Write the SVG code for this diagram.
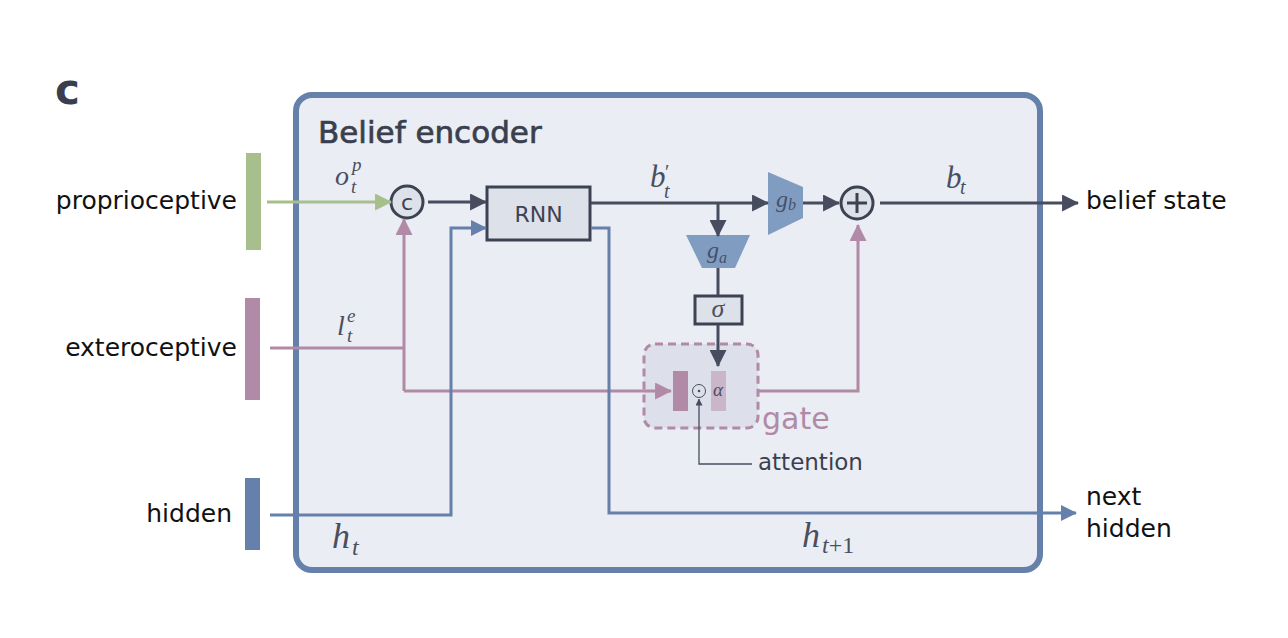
<svg xmlns="http://www.w3.org/2000/svg" width="1288" height="638" viewBox="0 0 1288 638">
<defs>
<style>
.lbl{font-family:"DejaVu Sans","Liberation Sans",sans-serif;font-size:25px;fill:#111}
.math{font-family:"Liberation Serif","DejaVu Serif",serif;font-style:italic;fill:#4a4f5f}
.up{font-style:normal}
.dk{fill:none;stroke:#474d5f;stroke-width:3}
.gr{fill:none;stroke:#a6bf8c;stroke-width:3}
.pu{fill:none;stroke:#b08aa6;stroke-width:3}
.bl{fill:none;stroke:#6580aa;stroke-width:3}
.node{fill:#dde1ea;stroke:#3d4252;stroke-width:3}
.trap{fill:#809dc1}
</style>
<marker id="aDk" viewBox="0 0 16 16" refX="15" refY="8" markerWidth="17" markerHeight="17" markerUnits="userSpaceOnUse" orient="auto"><path d="M0,0 L16,8 L0,16 z" fill="#474d5f"/></marker>
<marker id="aGr" viewBox="0 0 16 16" refX="15" refY="8" markerWidth="17" markerHeight="17" markerUnits="userSpaceOnUse" orient="auto"><path d="M0,0 L16,8 L0,16 z" fill="#a6bf8c"/></marker>
<marker id="aPu" viewBox="0 0 16 16" refX="15" refY="8" markerWidth="17" markerHeight="17" markerUnits="userSpaceOnUse" orient="auto"><path d="M0,0 L16,8 L0,16 z" fill="#b08aa6"/></marker>
<marker id="aBl" viewBox="0 0 16 16" refX="15" refY="8" markerWidth="16" markerHeight="16" markerUnits="userSpaceOnUse" orient="auto"><path d="M0,0 L16,8 L0,16 z" fill="#6580aa"/></marker>
<marker id="aTh" viewBox="0 0 8 8" refX="7.5" refY="4" markerWidth="7" markerHeight="7" markerUnits="userSpaceOnUse" orient="auto"><path d="M0,0 L8,4 L0,8 z" fill="#474d5f"/></marker>
</defs>
<rect width="1288" height="638" fill="#ffffff"/>

<text x="55" y="104" style="font-family:'DejaVu Sans','Liberation Sans',sans-serif;font-weight:bold;font-size:42px;fill:#3a3f4f">c</text>

<g id="encoder">
<rect x="296" y="95" width="744" height="475" rx="16" fill="#eaedf3" stroke="#6580aa" stroke-width="6"/>
<text x="318" y="143" style="font-family:'DejaVu Sans','Liberation Sans',sans-serif;font-size:31px;fill:#3a3f4f;stroke:#3a3f4f;stroke-width:0.7">Belief encoder</text>
</g>

<g id="in-proprio">
<rect x="246" y="153" width="15" height="97" fill="#a6bf8c"/>
<text class="lbl" x="237" y="209" text-anchor="end">proprioceptive</text>
</g>
<g id="in-extero">
<rect x="245" y="298" width="15" height="102" fill="#b08aa6"/>
<text class="lbl" x="237" y="356" text-anchor="end">exteroceptive</text>
</g>
<g id="in-hidden">
<rect x="245" y="478" width="15" height="72" fill="#6580aa"/>
<text class="lbl" x="232" y="522" text-anchor="end">hidden</text>
</g>

<g id="concat">
<circle class="node" cx="407" cy="202" r="16"/>
<text x="407" y="210" text-anchor="middle" style="font-family:'DejaVu Sans',sans-serif;font-size:22px;fill:#3d4252">c</text>
</g>

<g id="rnn">
<rect class="node" x="487" y="187" width="103" height="53"/>
<text x="538.5" y="222" text-anchor="middle" style="font-family:'DejaVu Sans',sans-serif;font-size:22px;fill:#3d4252">RNN</text>
</g>

<g id="ga">
<polygon class="trap" points="686,235 750,235 735,268 702,268"/>
<text class="math" x="707" y="258" style="font-size:24px;fill:#45516b">g<tspan x="719" y="263" style="font-size:16px">a</tspan></text>
</g>

<g id="sigma">
<rect class="node" x="695" y="296" width="47" height="28"/>
<text class="math" x="718" y="317" text-anchor="middle" style="font-size:26px">σ</text>
</g>

<g id="gate">
<rect x="644" y="344" width="114" height="84" rx="11" fill="#dde0ea" stroke="#b08aa6" stroke-width="3" stroke-dasharray="8 5"/>
<rect x="673" y="371" width="15" height="40" fill="#b08aa6"/>
<rect x="711" y="371" width="15" height="40" fill="#cbb6c9"/>
<circle cx="699" cy="391" r="6.5" fill="none" stroke="#474d5f" stroke-width="1"/>
<circle cx="699" cy="391" r="1.3" fill="#474d5f"/>
<text class="math" x="718" y="396" text-anchor="middle" style="font-size:19px">α</text>
<text x="762" y="429" style="font-family:'DejaVu Sans',sans-serif;font-size:30px;fill:#b08aa6">gate</text>
</g>

<g id="attention">
<text x="758" y="470" style="font-family:'DejaVu Sans',sans-serif;font-size:23px;fill:#3a3f4f">attention</text>
</g>

<g id="gb">
<polygon class="trap" points="768,172 803,187 803,218 768,235"/>
<text class="math" x="776" y="207" style="font-size:24px;fill:#45516b">g<tspan x="788" y="210" style="font-size:16px">b</tspan></text>
</g>

<g id="sum">
<circle class="node" cx="857" cy="203" r="16"/>
<path d="M857,193 V213 M847,203 H867" stroke="#3d4252" stroke-width="3"/>
</g>

<g id="connectors">
<path class="gr" d="M267,202 H391" marker-end="url(#aGr)"/>
<path class="pu" d="M270,348 H404"/>
<path class="pu" d="M404,391 V219" marker-end="url(#aPu)"/>
<path class="pu" d="M404,391 H671" marker-end="url(#aPu)"/>
<path class="dk" d="M428,202 H486" marker-end="url(#aDk)"/>
<path class="bl" d="M270,515 H451 V228 H486" marker-end="url(#aBl)"/>
<path class="bl" d="M591,228 H609 V513 H1076" marker-end="url(#aBl)"/>
<path class="dk" d="M591,203 H768" marker-end="url(#aDk)"/>
<path class="dk" d="M718,203 V236" marker-end="url(#aDk)"/>
<path class="dk" d="M718,268 V295"/>
<path class="dk" d="M718,325 V366" marker-end="url(#aDk)"/>
<path class="pu" d="M759,391 H858 V225" marker-end="url(#aPu)"/>
<path class="dk" d="M803,203 H839" marker-end="url(#aDk)"/>
<path class="dk" d="M880,203 H1078" marker-end="url(#aDk)"/>
<path d="M752,464 H699 V399" fill="none" stroke="#474d5f" stroke-width="1.3" marker-end="url(#aTh)"/>
</g>

<g id="out-belief">
<text class="lbl" x="1086" y="209">belief state</text>
</g>
<g id="out-hidden">
<text class="lbl" x="1086" y="505">next</text>
<text class="lbl" x="1086" y="537">hidden</text>
</g>

<g id="math-labels">
<text class="math" x="335" y="185" style="font-size:28px">o<tspan x="351" y="193" style="font-size:19px">t</tspan><tspan x="352" y="171" style="font-size:19px">p</tspan></text>
<text class="math" x="337" y="335" style="font-size:28px">l<tspan x="347" y="342" style="font-size:19px">t</tspan><tspan x="347" y="322" style="font-size:19px">e</tspan></text>
<text class="math" x="650" y="187" style="font-size:31px">b<tspan x="665" y="179" class="up" style="font-size:20px">′</tspan><tspan x="664" y="198" style="font-size:20px">t</tspan></text>
<text class="math" x="946" y="188" style="font-size:31px">b<tspan x="960" y="194" style="font-size:20px">t</tspan></text>
<text class="math" x="332" y="548" style="font-size:36px">h<tspan x="352" y="555" style="font-size:24px">t</tspan></text>
<text class="math" x="802" y="547" style="font-size:36px">h<tspan x="822" y="553" style="font-size:24px">t<tspan class="up">+1</tspan></tspan></text>
</g>
</svg>
